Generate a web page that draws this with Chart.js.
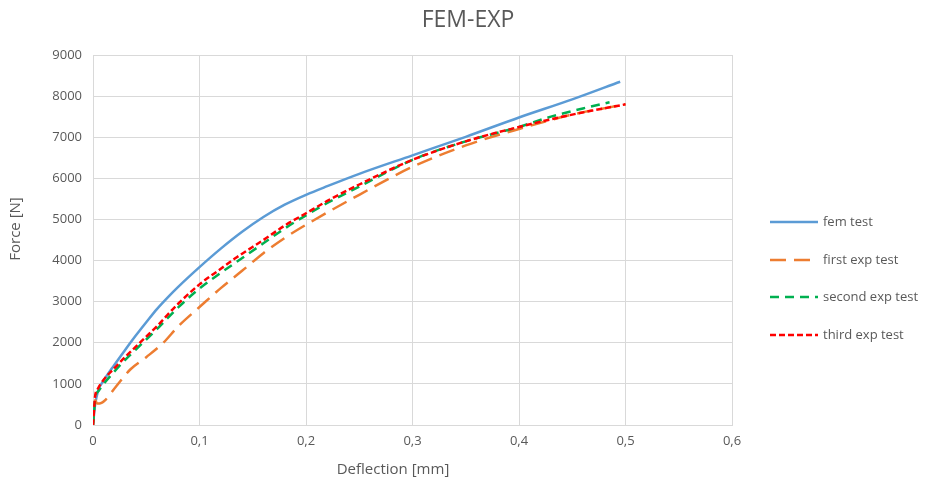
<!DOCTYPE html>
<html>
<head>
<meta charset="utf-8">
<script src="https://cdn.jsdelivr.net/npm/chart.js@4.4.1/dist/chart.umd.min.js"></script>
<style>
html,body{margin:0;padding:0;background:#fff;}
#wrap{width:936px;height:487px;}
</style>
</head>
<body>
<div id="wrap"><canvas id="c" width="936" height="487"></canvas></div>
<script>
const chartTitle = "FEM-EXP";
const xAxisTitle = "Deflection [mm]";
const yAxisTitle = "Force [N]";
const seriesNames = ["fem test", "first exp test", "second exp test", "third exp test"];

const femX = [0, 0.002, 0.005, 0.01, 0.02, 0.03, 0.04, 0.05, 0.06, 0.07, 0.08, 0.1, 0.12, 0.14, 0.16, 0.18, 0.2, 0.22, 0.25, 0.3, 0.35, 0.4, 0.45, 0.495];
const femY = [0, 500, 850, 1080, 1460, 1820, 2170, 2500, 2820, 3100, 3360, 3840, 4290, 4700, 5060, 5360, 5600, 5810, 6110, 6560, 7010, 7480, 7920, 8350];

const firstX = [0, 0.002, 0.004, 0.008, 0.012, 0.022, 0.035, 0.05, 0.066, 0.08, 0.1, 0.12, 0.14, 0.16, 0.18, 0.2, 0.25, 0.3, 0.35, 0.4, 0.45, 0.5];
const firstY = [0, 600, 520, 540, 620, 950, 1350, 1650, 2000, 2400, 2870, 3330, 3750, 4180, 4550, 4870, 5600, 6280, 6800, 7200, 7550, 7800];

const secondX = [0, 0.001, 0.002, 0.005, 0.01, 0.02, 0.03, 0.04, 0.05, 0.06, 0.07, 0.08, 0.1, 0.12, 0.135, 0.16, 0.18, 0.2, 0.22, 0.25, 0.3, 0.35, 0.4, 0.43, 0.46, 0.485];
const secondY = [0, 300, 650, 820, 1000, 1300, 1580, 1830, 2080, 2330, 2600, 2860, 3320, 3700, 3970, 4420, 4780, 5100, 5400, 5800, 6450, 6900, 7250, 7500, 7700, 7850];

const thirdX = [0, 0.002, 0.004, 0.01, 0.02, 0.03, 0.04, 0.05, 0.06, 0.07, 0.08, 0.1, 0.12, 0.135, 0.16, 0.18, 0.2, 0.22, 0.25, 0.3, 0.35, 0.4, 0.45, 0.5];
const thirdY = [0, 700, 850, 1100, 1380, 1650, 1900, 2150, 2400, 2680, 2950, 3420, 3800, 4080, 4500, 4850, 5150, 5450, 5850, 6450, 6900, 7250, 7550, 7800];

const xTicks = [0, 0.1, 0.2, 0.3, 0.4, 0.5, 0.6];
const yTicks = [0, 1000, 2000, 3000, 4000, 5000, 6000, 7000, 8000, 9000];

const colors = ["#5b9bd5", "#ed7d31", "#00b050", "#ff0000"];
const dashes = [[], [16, 8], [9, 6], [6, 3]];
const drawOrder = [4, 3, 2, 1];

function pts(xs, ys){ return xs.map((x,i)=>({x:x, y:ys[i]})); }
const allX = [femX, firstX, secondX, thirdX];
const allY = [femY, firstY, secondY, thirdY];

const FONT = "'Open Sans', 'Liberation Sans', sans-serif";
const TXT = "#595959";

const textPlugin = {
  id: 'excelText',
  afterDraw(chart){
    const ctx = chart.ctx;
    ctx.save();
    ctx.fillStyle = TXT;
    ctx.textAlign = "center";
    ctx.textBaseline = "middle";
    ctx.font = "23px " + FONT;
    ctx.fillText(chartTitle, 468, 20);
    ctx.font = "15px " + FONT;
    ctx.fillText(xAxisTitle, 393, 470);
    ctx.translate(16, 229);
    ctx.rotate(-Math.PI/2);
    ctx.fillText(yAxisTitle, 0, 0);
    ctx.restore();
    const x0 = 770, x1 = 818, tx = 823;
    const rows = [222, 260, 297, 335];
    chart.data.datasets.forEach((ds, i) => {
      const y = rows[i];
      ctx.save();
      ctx.strokeStyle = ds.borderColor;
      ctx.lineWidth = ds.borderWidth;
      ctx.setLineDash(ds.borderDash || []);
      ctx.beginPath();
      ctx.moveTo(x0, y);
      ctx.lineTo(x1, y);
      ctx.stroke();
      ctx.setLineDash([]);
      ctx.fillStyle = TXT;
      ctx.font = "13px " + FONT;
      ctx.textBaseline = "middle";
      ctx.textAlign = "left";
      ctx.fillText(ds.label, tx, y);
      ctx.restore();
    });
  }
};

new Chart(document.getElementById('c'), {
  type: 'scatter',
  data: {
    datasets: seriesNames.map((name, i) => ({
      label: name,
      data: pts(allX[i], allY[i]),
      showLine: true,
      borderColor: colors[i],
      backgroundColor: colors[i],
      borderWidth: 2.5,
      borderDash: dashes[i],
      pointRadius: 0,
      pointHoverRadius: 0,
      cubicInterpolationMode: 'monotone',
      fill: false,
      order: drawOrder[i]
    }))
  },
  options: {
    responsive: false,
    animation: false,
    devicePixelRatio: 1,
    layout: { padding: { left: 0, right: 204, top: 55, bottom: 0 } },
    plugins: {
      legend: { display: false },
      tooltip: { enabled: false },
      title: { display: false }
    },
    scales: {
      x: {
        type: 'linear',
        min: 0, max: 0.6,
        afterBuildTicks(scale){ scale.ticks = xTicks.map(v => ({value: v})); },
        afterFit(scale){ scale.height = 62; },
        ticks: {
          color: TXT,
          font: { family: FONT, size: 13 },
          padding: 8,
          maxRotation: 0,
          callback: (v) => String(Math.round(v*10)/10).replace('.', ',')
        },
        grid: { color: "#d9d9d9", lineWidth: 1, drawTicks: false },
        border: { color: "#d9d9d9" },
        title: { display: false }
      },
      y: {
        type: 'linear',
        min: 0, max: 9000,
        afterBuildTicks(scale){ scale.ticks = yTicks.map(v => ({value: v})); },
        afterFit(scale){ scale.width = 93; },
        ticks: {
          color: TXT,
          font: { family: FONT, size: 13 },
          padding: 11,
          callback: (v) => String(v)
        },
        grid: { color: "#d9d9d9", lineWidth: 1, drawTicks: false },
        border: { display: false },
        title: { display: false }
      }
    }
  },
  plugins: [textPlugin]
});
</script>
</body>
</html>
